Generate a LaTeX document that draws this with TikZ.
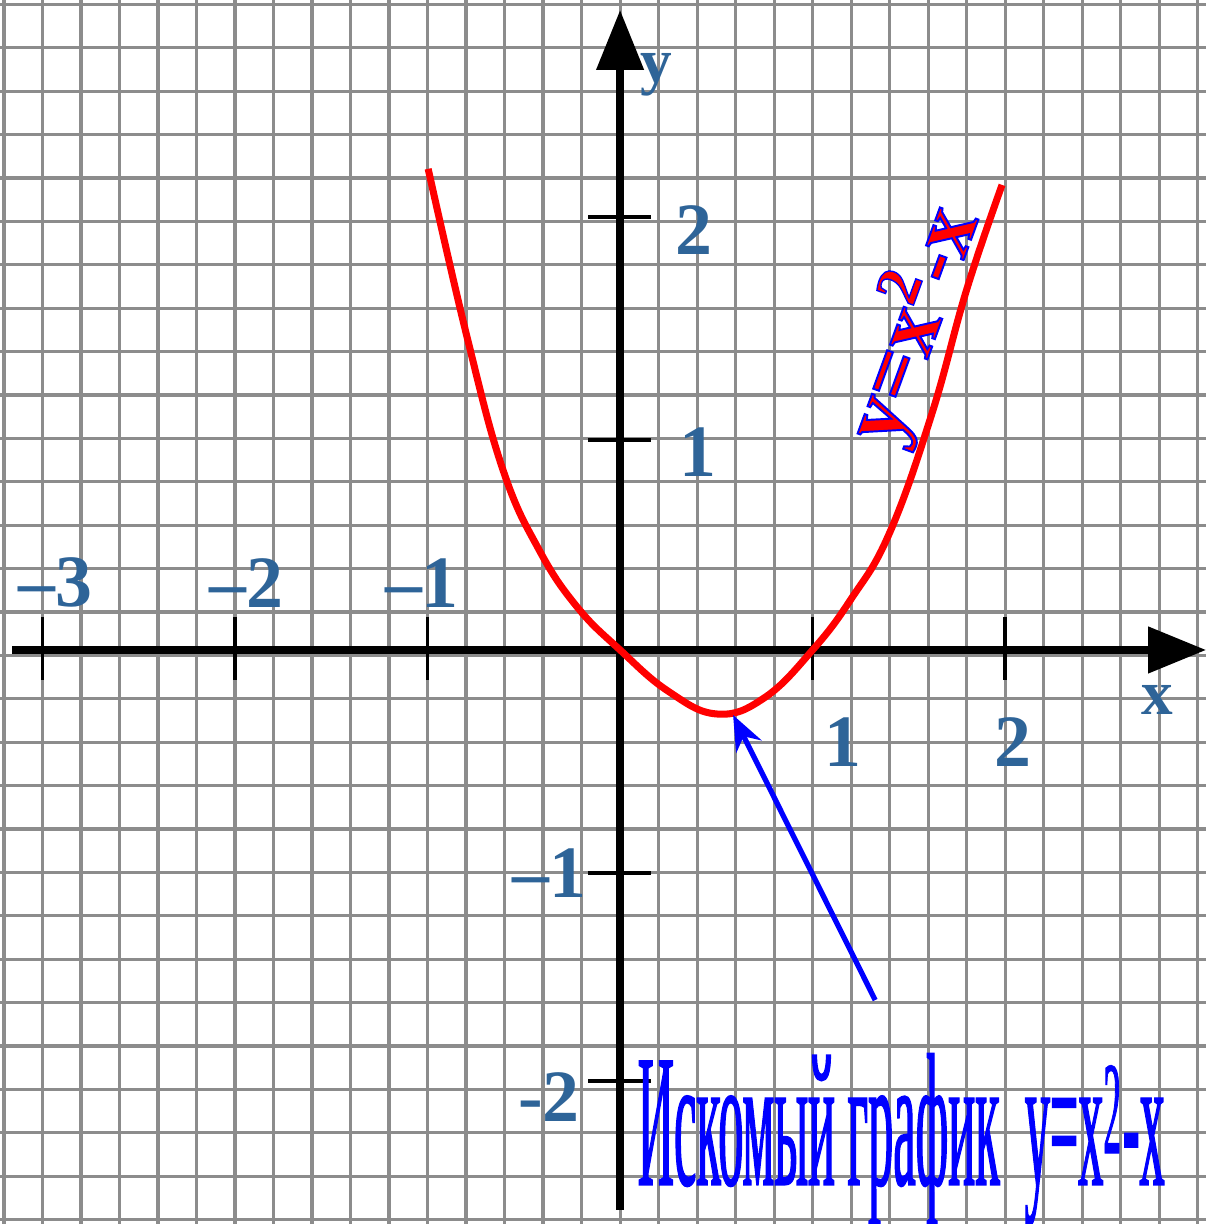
\documentclass[tikz,border=0pt]{standalone}
\usepackage{fontspec}
\setmainfont{Liberation Serif}
\newfontfamily\narrowserif[FakeStretch=0.265, FakeBold=0.6]{Liberation Serif}
\newfontfamily\outlineserif[FakeBold=2.2]{Liberation Serif Bold}
\newcommand{\bluestroke}{\special{pdf:code 0 0 1 RG}}
\usetikzlibrary{arrows.meta}
\definecolor{tickblue}{RGB}{46,100,152}
\tikzset{
    gridline/.style={black!45, line width=0.9pt},
    axis/.style={line width=2.2pt},
    tickmark/.style={line width=1pt},
    ticklabel/.style={tickblue, font=\fontsize{21}{24}\selectfont\bfseries},
    curve/.style={red, line width=2pt, line join=round},
    pointer/.style={blue, line width=1.5pt, -{Stealth[length=10pt, width=8pt]}},
}

\begin{document}
\begin{tikzpicture}[x=1.925cm, y=2.17cm]
    \useasboundingbox (-3.221,-2.645) rectangle (3.044,2.995);

    % 方格纸
    \foreach \i in {0,...,31}
        \draw[gridline] ({-3.2+0.2*\i},-2.645) -- ({-3.2+0.2*\i},2.995);
    \foreach \j in {-13,...,15}
        \draw[gridline] (-3.221,{-0.025+0.2*\j}) -- (3.044,{-0.025+0.2*\j});

    % 坐标轴
    \coordinate (xstart) at (-3.158,0);
    \coordinate (xend) at (3.044,0);
    \coordinate (ystart) at (0,-2.58);
    \coordinate (yend) at (0,2.949);
    \draw[axis, -{Triangle[length=0.58cm, width=0.45cm]}] (xstart) -- (xend);
    \draw[axis, -{Triangle[length=0.6cm, width=0.46cm]}] (ystart) -- (yend);
    \foreach \x in {-3,-2,-1,1,2}
        \draw[tickmark] (\x,0.152) -- (\x,-0.138);
    \foreach \y in {-1.986,-1.028,0.968,1.995}
        \draw[tickmark] (-0.166,\y) -- (0.161,\y);

    % 刻度标签
    \node[ticklabel] (xm3) at (-2.935,0.309) {–3};
    \node[ticklabel] (xm2) at (-1.943,0.309) {–2};
    \node[ticklabel] (xm1) at (-1.029,0.309) {–1};
    \node[ticklabel] (xp1) at (1.158,-0.424) {1};
    \node[ticklabel] (xp2) at (2.042,-0.424) {2};
    \node[ticklabel] (yp2) at (0.384,1.935) {2};
    \node[ticklabel] (yp1) at (0.405,0.912) {1};
    \node[ticklabel] (ym1) at (-0.369,-1.028) {–1};
    \node[ticklabel] (ym2) at (-0.369,-2.06) {-2};
    \node[tickblue, font=\fontsize{18}{20}\selectfont\bfseries] (xlabel) at (2.79,-0.23) {x};
    \node[tickblue, font=\fontsize{18}{20}\selectfont\bfseries] (ylabel) at (0.187,2.65) {y};

    % 曲线 y=x^2-x
    \draw[curve] plot[smooth, tension=0.7] coordinates {
        (-0.997,2.217) (-0.795,1.442) (-0.608,0.829) (-0.42,0.46)
        (-0.223,0.198) (0,0) (0.25,-0.19) (0.504,-0.295) (0.75,-0.22)
        (1,0) (1.2,0.235) (1.4,0.54) (1.62,1.09) (1.8,1.66) (1.984,2.143)};
    \node[rotate=70, red, font=\outlineserif\fontsize{25}{30}\selectfont] (formula) at (1.515,1.50)
        {\bluestroke y=x\textsuperscript{2}-x};

    % 说明文字与箭头
    \node[anchor=base west, inner sep=0pt, blue, font=\narrowserif\fontsize{54}{60}\selectfont]
        (caption) at (0.088,-2.465) {Искомый график~~y=x\textsuperscript{2}-x};
    \coordinate (vertex) at (0.587,-0.30);
    \coordinate (tail) at (1.325,-1.613);
    \draw[pointer] (tail) -- (vertex);
\end{tikzpicture}
\end{document}
